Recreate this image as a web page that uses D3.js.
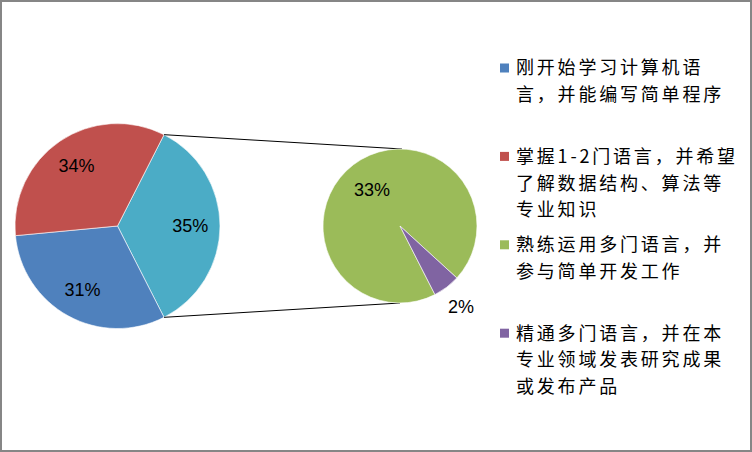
<!DOCTYPE html>
<html>
<head>
<meta charset="utf-8">
<script src="https://cdn.jsdelivr.net/npm/d3@7"></script>
<style>
  html, body { margin: 0; padding: 0; background: #fff; }
  svg { display: block; }
</style>
</head>
<body>
<svg id="chart" width="752" height="452"></svg>
<script>
// Categories (legend order) and their shares in percent
const categories = [
  "刚开始学习计算机语言，并能编写简单程序",
  "掌握1-2门语言，并希望了解数据结构、算法等专业知识",
  "熟练运用多门语言，并参与简单开发工作",
  "精通多门语言，并在本专业领域发表研究成果或发布产品"
];
const values = [31, 34, 33, 2];
const colors = ["#4F81BD", "#C0504D", "#9BBB59", "#8064A2"];
const otherColor = "#4BACC6";
// The first two categories stay in the main pie; the rest are split into the second pie
const mainCount = 2;

const svg = d3.select("#chart");
const W = 752, H = 452;

// Chart area frame
svg.append("rect")
  .attr("x", 1).attr("y", 1)
  .attr("width", W - 2).attr("height", H - 2)
  .attr("fill", "#fff")
  .attr("stroke", "#868686")
  .attr("stroke-width", 2);

const numFont = "'Liberation Sans', Arial, sans-serif";
const cjkFont = "'Noto Sans CJK SC', sans-serif";

// Main pie: the aggregated "other" slice first, centred on 3 o'clock
const otherTotal = d3.sum(values.slice(mainCount));
const mainData = [{ v: otherTotal, color: otherColor }]
  .concat(values.slice(0, mainCount).map((v, i) => ({ v, color: colors[i] })));
const total = d3.sum(values);
const otherSpan = otherTotal / total * 2 * Math.PI;
const mainStart = Math.PI / 2 - otherSpan / 2;

const mainPie = d3.pie().sort(null).value(d => d.v)
  .startAngle(mainStart).endAngle(mainStart + 2 * Math.PI);
const mainArcs = mainPie(mainData);

const mainC = { x: 117.5, y: 226 }, mainR = 102.5;
const secC = { x: 400, y: 226 }, secR = 77;

const arcMain = d3.arc().innerRadius(0).outerRadius(mainR);
const gMain = svg.append("g").attr("transform", `translate(${mainC.x},${mainC.y})`);
gMain.selectAll("path").data(mainArcs).join("path")
  .attr("d", arcMain)
  .attr("fill", d => d.data.color)
  .attr("stroke", "#fff")
  .attr("stroke-width", 0.6);

const mainLabelArc = d3.arc().innerRadius(mainR * 0.71).outerRadius(mainR * 0.71);
gMain.selectAll("text").data(mainArcs).join("text")
  .attr("transform", d => `translate(${mainLabelArc.centroid(d)})`)
  .attr("text-anchor", "middle")
  .attr("dy", "0.36em")
  .attr("font-family", numFont)
  .attr("font-size", 18)
  .attr("fill", "#000")
  .text(d => d.data.v + "%");

// Second pie: starts where the "other" slice ends
const secData = values.slice(mainCount).map((v, i) => ({ v, color: colors[mainCount + i] }));
const secStart = mainArcs[0].endAngle;
const secPie = d3.pie().sort(null).value(d => d.v)
  .startAngle(secStart).endAngle(secStart + 2 * Math.PI);
const secArcs = secPie(secData);

// Connector lines from the edges of the "other" slice to the second pie
const edgePt = a => [mainC.x + mainR * Math.sin(a), mainC.y - mainR * Math.cos(a)];
const p1 = edgePt(mainArcs[0].startAngle), p2 = edgePt(mainArcs[0].endAngle);
const line = d3.line();
svg.append("path")
  .attr("d", line([p1, [secC.x + 2, secC.y - secR]]))
  .attr("stroke", "#000").attr("stroke-width", 1).attr("fill", "none");
svg.append("path")
  .attr("d", line([p2, [secC.x, secC.y + secR]]))
  .attr("stroke", "#000").attr("stroke-width", 1).attr("fill", "none");

const arcSec = d3.arc().innerRadius(0).outerRadius(secR);
const gSec = svg.append("g").attr("transform", `translate(${secC.x},${secC.y})`);
gSec.selectAll("path").data(secArcs).join("path")
  .attr("d", arcSec)
  .attr("fill", d => d.data.color)
  .attr("stroke", "#fff")
  .attr("stroke-width", 0.6);

// Large slices get labels inside, tiny ones outside the rim
const secLabelPos = d => {
  const frac = (d.endAngle - d.startAngle) / (2 * Math.PI);
  const r = frac > 0.1 ? secR * 0.6 : secR * 1.31;
  return d3.arc().innerRadius(r).outerRadius(r).centroid(d);
};
gSec.selectAll("text").data(secArcs).join("text")
  .attr("transform", d => `translate(${secLabelPos(d)})`)
  .attr("text-anchor", "middle")
  .attr("dy", "0.36em")
  .attr("font-family", numFont)
  .attr("font-size", 18)
  .attr("fill", "#000")
  .text(d => d.data.v + "%");

// Legend with wrapped entries
const legX = 500, legTextX = 516, legTop = 68, legStep = 88.4, lineH = 26.8, maxW = 224;
const legFont = 18, legSpacing = 2.8;
const noLineStart = "，、。；：）";
const legend = svg.append("g");

function wrapLines(str) {
  const probe = legend.append("text")
    .attr("font-family", cjkFont).attr("font-size", legFont);
  const width = s => {
    probe.text(s);
    return probe.node().getComputedTextLength() + Array.from(s).length * legSpacing;
  };
  const lines = [];
  let cur = "";
  for (const ch of Array.from(str)) {
    if (cur && width(cur + ch) > maxW) {
      if (noLineStart.includes(ch)) {
        const chars = Array.from(cur);
        const last = chars.pop();
        lines.push(chars.join(""));
        cur = last + ch;
      } else {
        lines.push(cur);
        cur = ch;
      }
    } else {
      cur += ch;
    }
  }
  if (cur) lines.push(cur);
  probe.remove();
  return lines;
}

categories.forEach((name, i) => {
  const y0 = legTop + i * legStep;
  legend.append("rect")
    .attr("x", legX).attr("y", y0 - 4.5)
    .attr("width", 9).attr("height", 9)
    .attr("fill", colors[i]);
  const lines = wrapLines(name);
  lines.forEach((ln, j) => {
    legend.append("text")
      .attr("x", legTextX)
      .attr("y", y0 + j * lineH)
      .attr("dy", "0.36em")
      .attr("font-family", cjkFont)
      .attr("font-size", legFont)
      .attr("letter-spacing", legSpacing)
      .attr("fill", "#000")
      .text(ln);
  });
});
</script>
</body>
</html>
